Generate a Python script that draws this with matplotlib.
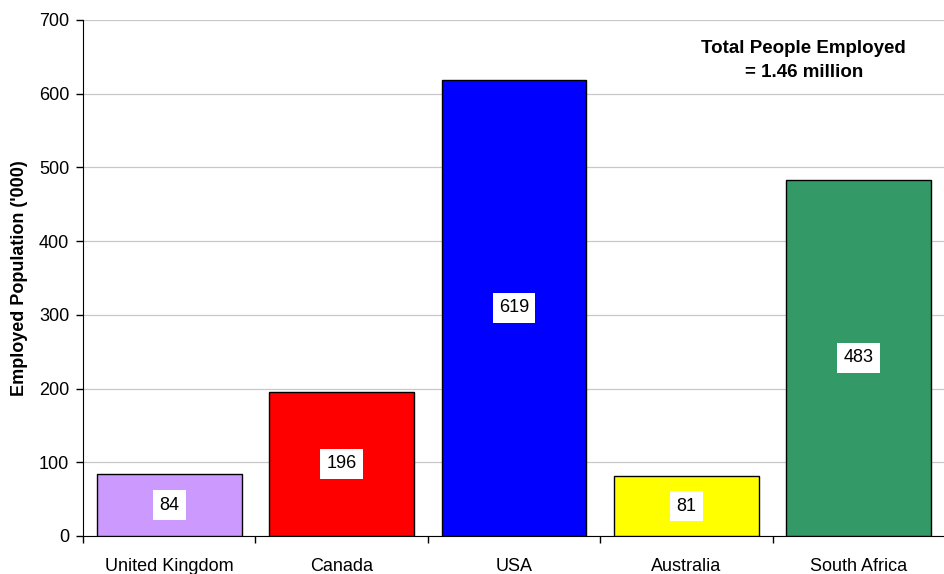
import matplotlib
matplotlib.use("Agg")
import matplotlib.pyplot as plt
import numpy as np

countries = ["United Kingdom", "Canada", "USA", "Australia", "South Africa"]
employed = [84, 196, 619, 81, 483]
colors = ["#CC99FF", "#FF0000", "#0000FF", "#FFFF00", "#339966"]
yticks = [0, 100, 200, 300, 400, 500, 600, 700]

plt.rcParams["font.family"] = ["Liberation Sans", "DejaVu Sans"]

fig = plt.figure(figsize=(9.45, 5.74), dpi=100)
ax = fig.add_axes([83 / 945, 1 - 536 / 574, 1 - 83 / 945, (536 - 20) / 574])

x = np.arange(len(countries))
ax.bar(x, employed, width=0.84, color=colors, edgecolor="black", linewidth=1.0, zorder=3)

for xi, v in zip(x, employed):
    ax.text(xi, v / 2, str(v), ha="center", va="center", fontsize=13, zorder=4,
            bbox=dict(facecolor="white", edgecolor="none", pad=4.5))

ax.set_xlim(-0.5, len(countries) - 0.5)
ax.set_ylim(0, 700)
ax.set_yticks(yticks)
ax.tick_params(axis="y", labelsize=13, direction="out", length=5, width=1, pad=5)
ax.yaxis.grid(True, color="#C8C8C8", linewidth=0.9, zorder=0)

ax.set_xticks(x)
ax.set_xticklabels(countries, fontsize=13)
ax.tick_params(axis="x", which="major", length=0, pad=16)
ax.set_xticks(np.arange(len(countries)) - 0.5, minor=True)
ax.tick_params(axis="x", which="minor", direction="out", length=5, width=1)

ax.spines["top"].set_visible(False)
ax.spines["right"].set_visible(False)

ax.set_ylabel("Employed Population ('000)", fontsize=13, fontweight="bold", labelpad=8)

ax.text(0.836, 0.922, "Total People Employed\n= 1.46 million", transform=ax.transAxes,
        ha="center", va="center", fontsize=13.5, fontweight="bold", linespacing=1.55)

fig.savefig("out.png", dpi=100)
